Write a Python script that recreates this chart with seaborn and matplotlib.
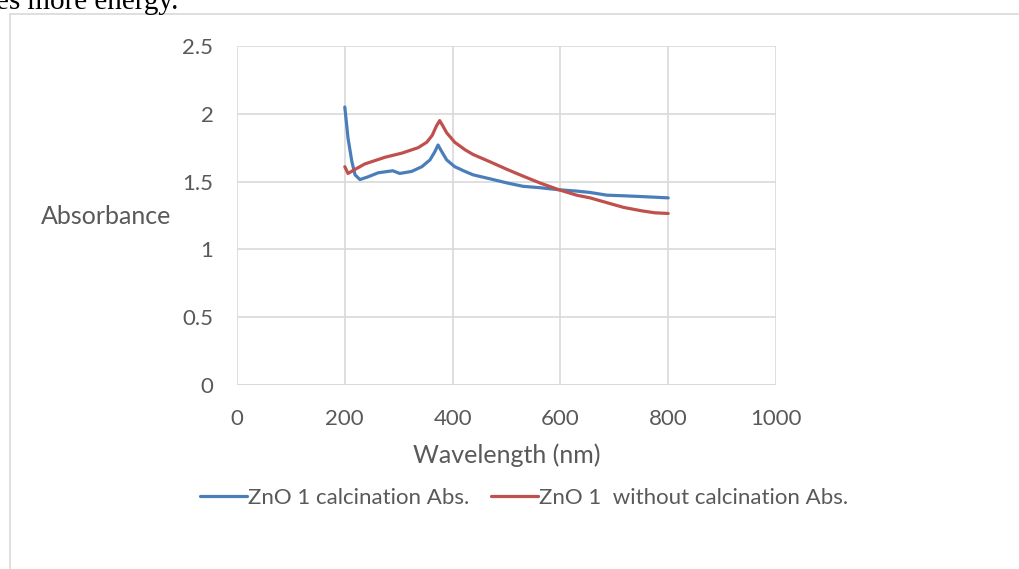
import pandas as pd
import matplotlib.pyplot as plt
import seaborn as sns
from matplotlib.lines import Line2D

# Dados
wl_calc = [200, 206, 213, 219, 228, 243, 262, 280, 289, 302, 324, 343, 358,
           367, 373, 380, 389, 404, 423, 438, 470, 501, 531, 562, 597, 630,
           655, 686, 720, 748, 775, 800]
abs_calc = [2.05, 1.82, 1.65, 1.55, 1.515, 1.535, 1.565, 1.575, 1.58, 1.56,
            1.575, 1.61, 1.66, 1.72, 1.77, 1.72, 1.66, 1.61, 1.575, 1.55,
            1.52, 1.49, 1.465, 1.455, 1.44, 1.43, 1.42, 1.40, 1.395, 1.39,
            1.385, 1.38]

wl_nocalc = [200, 206, 219, 237, 275, 306, 336, 352, 362, 370, 376, 382,
             389, 404, 423, 438, 470, 501, 531, 562, 597, 630, 655, 686,
             717, 750, 775, 800]
abs_nocalc = [1.61, 1.56, 1.59, 1.63, 1.68, 1.71, 1.75, 1.79, 1.84, 1.91,
              1.95, 1.91, 1.86, 1.79, 1.735, 1.70, 1.645, 1.59, 1.54, 1.49,
              1.44, 1.40, 1.38, 1.345, 1.31, 1.285, 1.27, 1.265]

series_names = ['ZnO 1 calcination Abs.', 'ZnO 1  without calcination Abs.']
cores = ['#4a7ebb', '#c0504d']

x_ticks = [0, 200, 400, 600, 800, 1000]
y_ticks = [0, 0.5, 1, 1.5, 2, 2.5]
y_tick_labels = ['0', '0.5', '1', '1.5', '2', '2.5']

df = pd.concat([
    pd.DataFrame({'wl': wl_calc, 'abs': abs_calc, 'serie': series_names[0]}),
    pd.DataFrame({'wl': wl_nocalc, 'abs': abs_nocalc, 'serie': series_names[1]}),
])

sns.set_style('white')
plt.rcParams['font.family'] = ['Lato', 'DejaVu Sans']
cinza = '#595959'
fs = 16

fig = plt.figure(figsize=(10.19, 5.69), dpi=100)
ax = fig.add_axes([237 / 1019, 1 - 385 / 569, 539 / 1019, 339 / 569])

sns.lineplot(data=df, x='wl', y='abs', hue='serie', palette=cores,
             linewidth=2.3, sort=False, estimator=None, legend=False, ax=ax)

ax.set_xlim(0, 1000)
ax.set_ylim(0, 2.5)
ax.set_xticks(x_ticks)
ax.set_yticks(y_ticks)
ax.set_yticklabels(y_tick_labels)
ax.grid(True, color='#d9d9d9', linewidth=1.2)
ax.set_axisbelow(True)
for s in ax.spines.values():
    s.set_visible(False)
ax.axhline(0, color='#d9d9d9', linewidth=1.4, zorder=1)
ax.tick_params(length=0, labelsize=fs, labelcolor=cinza)
ax.tick_params(axis='y', pad=17)
ax.tick_params(axis='x', pad=17)

ax.set_xlabel('Wavelength (nm)', fontsize=18, color=cinza, labelpad=11)
ax.set_ylabel('Absorbance', fontsize=18, color=cinza, rotation=0,
              ha='center', va='center')
ax.yaxis.set_label_coords(-0.243, 0.496)

handles = [Line2D([0], [0], color=c, linewidth=2.3) for c in cores]
fig.legend(handles, series_names, loc='center', ncol=2, frameon=False,
           bbox_to_anchor=(524 / 1019, 1 - 498 / 569), fontsize=fs,
           labelcolor=cinza, handlelength=2.1, handletextpad=0.05,
           columnspacing=1.0)

# moldura do gráfico e texto cortado do documento
fig.add_artist(Line2D([10 / 1019, 10 / 1019], [0, 1 - 14 / 569],
                      color='#d9d9d9', linewidth=1.2))
fig.add_artist(Line2D([10 / 1019, 1], [1 - 14 / 569, 1 - 14 / 569],
                      color='#d9d9d9', linewidth=1.2))
fig.text(-0.004, 1 - 9 / 569, 'es more energy.', family='Liberation Serif',
         fontsize=21, ha='left', va='baseline', color='black')

fig.savefig('out.png', dpi=100)
